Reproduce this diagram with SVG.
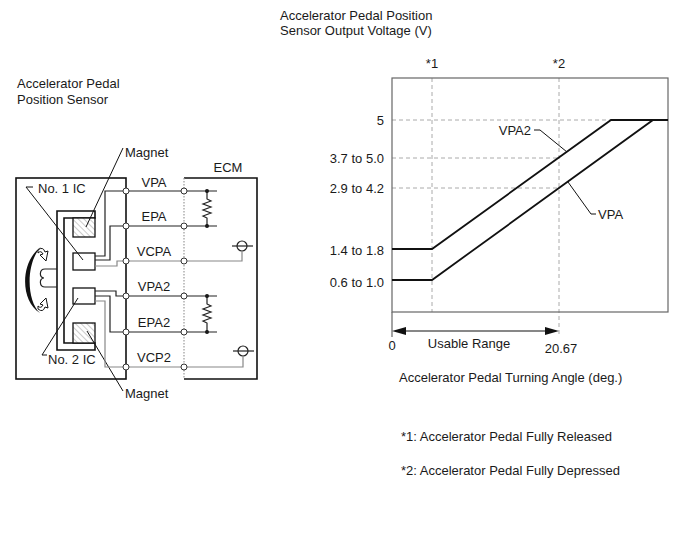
<svg xmlns="http://www.w3.org/2000/svg" width="693" height="557" viewBox="0 0 693 557">
<style>
text{font-family:"Liberation Sans",Arial,sans-serif;font-size:13px;fill:#1a1a1a}
.c{text-anchor:middle}
.e{text-anchor:end}
.box{fill:none;stroke:#111;stroke-width:1.6}
.w{fill:none;stroke:#222;stroke-width:1.2}
.g{fill:none;stroke:#888;stroke-width:1.2}
.j{fill:#fff;stroke:#333;stroke-width:1}
.ld{fill:none;stroke:#111;stroke-width:1}
.dash{fill:none;stroke:#aaa;stroke-width:1;stroke-dasharray:4 3}
.crv{fill:none;stroke:#111;stroke-width:1.8}
</style>
<defs>
<pattern id="hatch" width="4" height="4" patternUnits="userSpaceOnUse" patternTransform="rotate(-45)">
<rect width="4" height="4" fill="#fff"/>
<line x1="0" y1="0" x2="0" y2="4" stroke="#999" stroke-width="1"/>
</pattern>
</defs>
<rect width="693" height="557" fill="#fff"/>

<g id="titles">
<text x="280" y="20">Accelerator Pedal Position</text>
<text x="280" y="35">Sensor Output Voltage (V)</text>
<text x="17" y="88">Accelerator Pedal</text>
<text x="17" y="104">Position Sensor</text>
</g>

<g id="sensor">
<rect class="box" x="16" y="178" width="110" height="201"/>
<path class="box" d="M95,211 H57 V350 H95 V343 H64 V218 H95 Z" fill="#fff"/>
<rect x="73" y="218" width="22" height="19" fill="url(#hatch)" stroke="#111" stroke-width="1.3"/>
<rect x="73" y="323" width="22" height="20" fill="url(#hatch)" stroke="#111" stroke-width="1.3"/>
<rect x="73" y="253" width="22" height="17" fill="#fff" stroke="#111" stroke-width="1.3"/>
<rect x="73" y="288" width="22" height="16" fill="#fff" stroke="#111" stroke-width="1.3"/>
<path class="w" d="M57,269 H45 C39,269 39,278 44,278 C39,278 39,287 45,287 H57"/>
<path d="M41,247 C21,260 19,300 40,313 C26,300 26,262 41,247 Z" fill="#111"/>
<path d="M38,250 Q43,246 45,252 L48,251 L46,261 L40,255 L43,254 Q41,250 38,253 Z" fill="#fff" stroke="#111" stroke-width="1"/>
<path d="M38,309 Q43,313 45,307 L48,308 L46,298 L40,304 L43,305 Q41,309 38,306 Z" fill="#fff" stroke="#111" stroke-width="1"/>
<text x="38" y="193">No. 1 IC</text>
<polyline class="ld" points="33,187 26,187 83,260"/>
<text x="48" y="364">No. 2 IC</text>
<polyline class="ld" points="78,298 42,355 47,355"/>
<text x="125" y="157">Magnet</text>
<line class="ld" x1="123" y1="148" x2="86" y2="227"/>
<text x="125" y="398">Magnet</text>
<line class="ld" x1="87" y1="331" x2="123" y2="391"/>
</g>

<g id="ecm">
<path class="box" d="M184,178 H257 V379 H184"/>
<line x1="184" y1="178" x2="184" y2="379" stroke="#999" stroke-width="1.2" stroke-dasharray="1.5 1.5"/>
<text class="c" x="228" y="172">ECM</text>
<path class="w" d="M207,191 V199 l4,2 l-8,3 l8,3 l-8,3 l8,3 l-8,3 l4,2 V226"/>
<circle cx="207" cy="191" r="2" fill="#111"/>
<circle cx="207" cy="226" r="2" fill="#111"/>
<path class="w" d="M207,296 V304 l4,2 l-8,3 l8,3 l-8,3 l8,3 l-8,3 l4,2 V332"/>
<circle cx="207" cy="296" r="2" fill="#111"/>
<circle cx="207" cy="332" r="2" fill="#111"/>
<circle cx="242" cy="246" r="5" fill="#fff" stroke="#222" stroke-width="1.2"/>
<line class="w" x1="232" y1="246" x2="253" y2="246"/>
<circle cx="243" cy="351" r="5" fill="#fff" stroke="#222" stroke-width="1.2"/>
<line class="w" x1="233" y1="351" x2="254" y2="351"/>
</g>

<g id="connectors">
<polyline class="w" points="95,256 105,256 105,191 217,191"/>
<polyline class="w" points="95,260 110,260 110,226 217,226"/>
<polyline class="g" points="95,266 117,266 117,261 242,261 242,251"/>
<polyline class="w" points="95,291 116,291 116,296 217,296"/>
<polyline class="w" points="95,296 110,296 110,332 217,332"/>
<polyline class="g" points="95,301 105,301 105,367 243,367 243,356"/>
<g>
<circle class="j" cx="126" cy="191" r="3"/><circle class="j" cx="184" cy="191" r="3"/>
<circle class="j" cx="126" cy="226" r="3"/><circle class="j" cx="184" cy="226" r="3"/>
<circle class="j" cx="126" cy="261" r="3"/><circle class="j" cx="184" cy="261" r="3"/>
<circle class="j" cx="126" cy="296" r="3"/><circle class="j" cx="184" cy="296" r="3"/>
<circle class="j" cx="126" cy="332" r="3"/><circle class="j" cx="184" cy="332" r="3"/>
<circle class="j" cx="126" cy="367" r="3"/><circle class="j" cx="184" cy="367" r="3"/>
</g>
<text class="c" x="154" y="187">VPA</text>
<text class="c" x="154" y="221">EPA</text>
<text class="c" x="154" y="256">VCPA</text>
<text class="c" x="154" y="291">VPA2</text>
<text class="c" x="154" y="327">EPA2</text>
<text class="c" x="154" y="362">VCP2</text>
</g>

<g id="chart">
<line class="dash" x1="432" y1="78" x2="432" y2="312"/>
<line class="dash" x1="559" y1="78" x2="559" y2="337"/>
<line class="dash" x1="392" y1="120" x2="668" y2="120"/>
<line class="dash" x1="392" y1="158" x2="559" y2="158"/>
<line class="dash" x1="392" y1="188" x2="559" y2="188"/>
<rect x="392" y="78" width="276" height="234" fill="none" stroke="#666" stroke-width="1.2"/>
<line x1="392" y1="312" x2="392" y2="337" stroke="#666" stroke-width="1.2"/>
<polyline class="crv" points="392,249 432,249 611,120 668,120"/>
<polyline class="crv" points="392,280 432,280 653,120 668,120"/>
<line x1="400" y1="331" x2="551" y2="331" stroke="#111" stroke-width="1.2"/>
<polygon points="392,331 406,327 406,335" fill="#111"/>
<polygon points="559,331 545,327 545,335" fill="#111"/>
<text class="c" x="432" y="68">*1</text>
<text class="c" x="559" y="68">*2</text>
<text class="e" x="384" y="124.5">5</text>
<text class="e" x="384" y="163">3.7 to 5.0</text>
<text class="e" x="384" y="192.5">2.9 to 4.2</text>
<text class="e" x="384" y="254.5">1.4 to 1.8</text>
<text class="e" x="384" y="286.5">0.6 to 1.0</text>
<text class="c" x="392" y="350">0</text>
<text class="c" x="469" y="348">Usable Range</text>
<text class="c" x="561" y="353">20.67</text>
<text class="e" x="531" y="135">VPA2</text>
<polyline class="ld" points="534,130 540,130 567,152"/>
<text x="598" y="219">VPA</text>
<polyline class="ld" points="596,214 591,214 568,182"/>
<text x="399" y="382">Accelerator Pedal Turning Angle (deg.)</text>
<text x="401" y="441">*1: Accelerator Pedal Fully Released</text>
<text x="401" y="475">*2: Accelerator Pedal Fully Depressed</text>
</g>
</svg>
